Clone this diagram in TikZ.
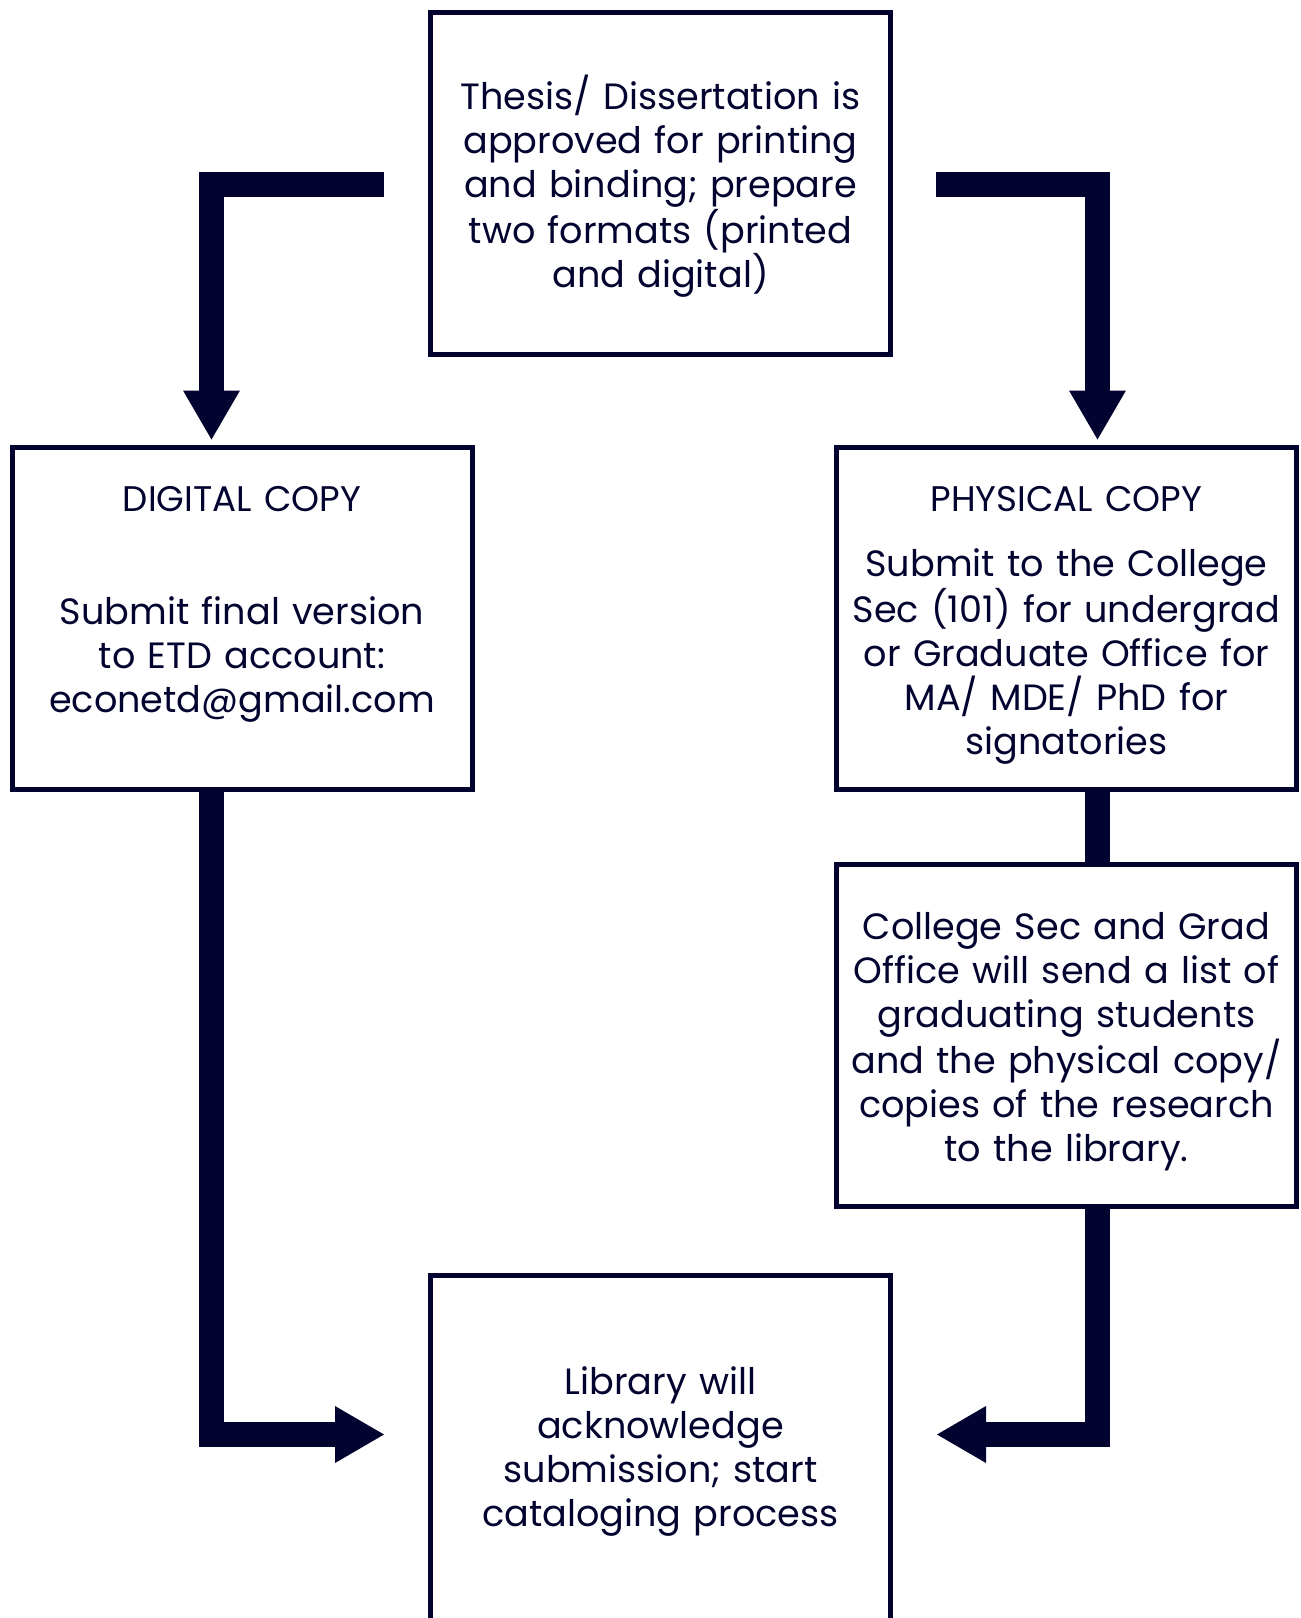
\documentclass[tikz,border=0pt]{standalone}
\usepackage{fontspec}
\setmainfont{Poppins}
\usetikzlibrary{arrows.meta}
\definecolor{navy}{RGB}{3,3,48}
\begin{document}
\begin{tikzpicture}[x=0.5pt,y=-0.5pt,
        every node/.style={text=navy,font=\fontsize{18.3}{22}\selectfont},
        box/.style={draw=navy,line width=2.5pt,minimum width=230pt,minimum height=171pt,
            inner sep=0pt,text width=222pt,align=center,text height=0pt,text depth=#1},
        flow/.style={draw=navy,line width=12.5pt,line join=miter},
        arr/.style={flow,-{Triangle[length=24.5pt,width=28.5pt,line width=0pt]}}]
    \clip (0,0) rectangle (1301,1618);
    \node[box=74.5pt] (thesis) at (660.5,183.5)
        {Thesis/ Dissertation is\\approved for printing\\and binding; prepare\\two formats (printed\\and digital)};
    \node[box=107.5pt] (digital) at (242,618.5)
        {{\fontsize{17.8}{22}\selectfont DIGITAL COPY}\\[34.5pt]Submit final version\\to ETD account:\\econetd@gmail.com};
    \node[box=107.5pt] (physical) at (1066.5,618.5)
        {{\fontsize{17.8}{22}\selectfont PHYSICAL COPY}\\[10.5pt]Submit to the College\\Sec (101) for undergrad\\or Graduate Office for\\MA/ MDE/ PhD for\\signatories};
    \node[box=96.5pt] (college) at (1066.5,1035.5)
        {College Sec and Grad\\Office will send a list of\\graduating students\\and the physical copy/\\copies of the research\\to the library.};
    \node[box=81.5pt,minimum height=200pt] (library) at (660.5,1475.5)
        {Library will\\acknowledge\\submission; start\\cataloging process};
    \coordinate (tl) at (384,184);
    \coordinate (tr) at (936,184);
    \coordinate (bl) at (384,1434.5);
    \coordinate (br) at (937,1434.5);
    \draw[arr,shorten >=2.75pt] (tl) -| ([xshift=-15.25pt]digital.north);
    \draw[arr,shorten >=2.75pt] (tr) -| ([xshift=15.5pt]physical.north);
    \draw[flow] ([xshift=15.5pt]physical.south) -- ([xshift=15.5pt]college.north);
    \draw[arr] ([xshift=-15.25pt]digital.south) |- (bl);
    \draw[arr] ([xshift=15.5pt]college.south) |- (br);
\end{tikzpicture}
\end{document}
